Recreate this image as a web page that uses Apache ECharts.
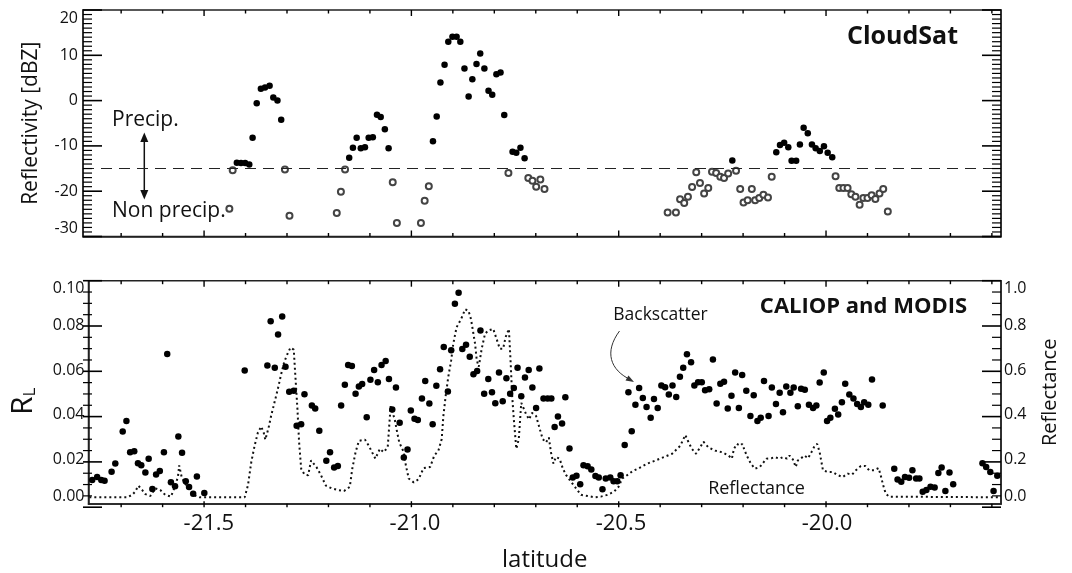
<!DOCTYPE html>
<html>
<head>
<meta charset="utf-8">
<script src="https://cdn.jsdelivr.net/npm/echarts@6/dist/echarts.min.js"></script>
<style>
html,body{margin:0;padding:0;background:#fff;}
#chart{width:1072px;height:573px;}
</style>
</head>
<body>
<div id="chart"></div>
<script>
// ---------------- DATA ----------------
// Top panel (CloudSat reflectivity, dBZ)
const precipLat = [-21.421,-21.411,-21.401,-21.391,-21.383,-21.373,-21.363,-21.353,-21.342,-21.333,-21.323,-21.314,
  -21.150,-21.141,-21.132,-21.122,-21.112,-21.103,-21.093,-21.083,-21.074,-21.064,-21.055,
  -20.948,-20.939,-20.930,-20.920,-20.911,-20.901,-20.891,-20.882,-20.872,-20.862,-20.853,-20.843,-20.834,-20.824,-20.814,-20.805,-20.795,-20.785,-20.776,-20.756,-20.747,-20.737,-20.727,
  -20.226,-20.120,-20.111,-20.101,-20.091,-20.083,-20.072,-20.063,-20.054,-20.044,-20.034,-20.025,-20.015,-20.005,-19.996,-19.985];
const precipDbz = [-13.7,-13.8,-13.8,-14.1,-8.2,-0.6,2.6,2.9,3.3,0.7,0.0,-4.2,
  -12.6,-10.4,-8.2,-10.5,-10.3,-8.2,-8.1,-3.1,-3.6,-6.3,-10.5,
  -9.0,-3.5,4.0,7.9,13.0,14.1,14.1,13.0,7.1,0.9,4.7,8.1,10.4,7.1,2.2,1.3,5.8,6.2,-3.2,-11.3,-11.5,-10.4,-12.7,
  -13.2,-11.4,-9.8,-9.3,-10.3,-13.3,-13.3,-9.7,-6.0,-7.2,-9.7,-10.5,-11.1,-10.1,-11.5,-12.5];
const nonPrecipLat = [-21.439,-21.431,-21.305,-21.294,-21.180,-21.170,-21.160,-21.045,-21.035,-20.977,-20.968,-20.958,
  -20.766,-20.718,-20.708,-20.699,-20.689,-20.679,
  -20.382,-20.362,-20.352,-20.342,-20.333,-20.323,-20.313,-20.304,-20.294,-20.284,-20.275,-20.265,-20.255,-20.246,-20.236,
  -20.217,-20.207,-20.199,-20.189,-20.179,-20.171,-20.161,-20.151,-20.140,-20.131,
  -19.977,-19.968,-19.958,-19.948,-19.939,-19.929,-19.919,-19.910,-19.900,-19.890,-19.881,-19.871,-19.862,-19.851];
const nonPrecipDbz = [-23.9,-15.4,-15.2,-25.4,-24.8,-20.1,-15.2,-18.0,-27.0,-27.0,-22.1,-18.9,
  -16.0,-17.1,-17.7,-19.0,-17.4,-19.5,
  -24.7,-24.7,-21.8,-22.6,-21.2,-19.1,-15.8,-18.2,-20.5,-19.3,-15.7,-16.0,-16.8,-17.1,-16.1,
  -15.5,-19.5,-22.5,-22.0,-19.5,-22.0,-21.5,-20.8,-21.4,-16.8,
  -16.7,-19.3,-19.3,-19.3,-20.7,-21.2,-23.0,-21.5,-21.5,-20.9,-21.7,-20.5,-19.5,-24.5];
const precipThreshold = -15;

// Bottom panel (CALIOP backscatter R_L)
const backLat = [-21.783,-21.771,-21.761,-21.753,-21.736,-21.727,-21.709,-21.700,-21.691,-21.681,-21.672,-21.664,-21.654,-21.646,-21.637,-21.628,-21.619,-21.609,-21.601,-21.592,-21.582,-21.574,-21.565,-21.556,-21.548,-21.538,-21.529,-21.511,
  -21.413,-21.358,-21.350,-21.340,-21.332,-21.322,-21.314,-21.305,-21.294,-21.287,-21.276,-21.268,-21.250,-21.242,-21.232,-21.215,-21.206,-21.196,-21.187,-21.179,-21.170,-21.162,-21.153,-21.144,-21.136,-21.128,-21.117,-21.108,-21.099,-21.090,-21.081,-21.071,-21.063,-21.055,-21.046,-21.037,-21.027,-21.018,-21.010,-21.001,-20.993,-20.983,-20.975,-20.965,-20.957,-20.948,-20.939,-20.930,-20.920,-20.912,-20.903,-20.894,-20.885,-20.876,-20.867,-20.858,-20.849,-20.841,-20.832,-20.822,-20.813,-20.805,-20.796,-20.787,-20.778,-20.769,-20.760,-20.751,-20.742,-20.733,-20.724,-20.715,-20.706,-20.698,-20.688,-20.678,-20.669,-20.661,-20.653,-20.643,-20.635,-20.625,-20.617,-20.608,-20.599,-20.591,-20.581,-20.572,-20.562,-20.554,-20.545,-20.537,-20.526,-20.518,-20.509,-20.501,-20.491,-20.482,-20.474,-20.465,-20.456,-20.447,-20.438,-20.428,-20.420,-20.411,-20.402,-20.393,-20.384,-20.375,-20.366,-20.357,-20.349,-20.340,-20.330,-20.322,-20.313,-20.304,-20.296,-20.286,-20.277,-20.268,-20.259,-20.250,-20.241,-20.232,-20.223,-20.214,-20.206,-20.196,-20.186,-20.178,-20.169,-20.161,-20.153,-20.142,-20.134,-20.124,-20.115,-20.107,-20.099,-20.089,-20.081,-20.071,-20.063,-20.054,-20.044,-20.034,-20.026,-20.018,-20.008,-20.000,-19.992,-19.981,-19.973,-19.964,-19.956,-19.946,-19.936,-19.927,-19.918,-19.910,-19.900,-19.891,-19.865,
  -19.837,-19.829,-19.820,-19.811,-19.801,-19.793,-19.784,-19.776,-19.768,-19.759,-19.749,-19.739,-19.730,-19.722,-19.713,-19.703,-19.694,
  -19.623,-19.614,-19.604,-19.596,-19.587];
const backRL = [0.0107,0.0121,0.0107,0.0104,0.0144,0.0181,0.0325,0.0372,0.0232,0.0236,0.0183,0.0173,0.0141,0.0203,0.0067,0.0132,0.0148,0.0232,0.0672,0.0097,0.0080,0.0302,0.0229,0.0102,0.0076,0.0046,0.0123,0.0049,
  0.0598,0.0620,0.0818,0.0610,0.0759,0.0840,0.0615,0.0503,0.0507,0.0350,0.0357,0.0491,0.0441,0.0428,0.0328,0.0194,0.0232,0.0163,0.0170,0.0441,0.0534,0.0622,0.0618,0.0494,0.0526,0.0537,0.0389,0.0556,0.0600,0.0545,0.0622,0.0640,0.0560,0.0423,0.0522,0.0364,0.0208,0.0244,0.0419,0.0382,0.0376,0.0472,0.0551,0.0450,0.0357,0.0529,0.0603,0.0703,0.0504,0.0688,0.0897,0.0946,0.0694,0.0713,0.0659,0.0581,0.0596,0.0777,0.0494,0.0560,0.0500,0.0451,0.0589,0.0460,0.0563,0.0494,0.0519,0.0610,0.0482,0.0567,0.0600,0.0522,0.0430,0.0607,0.0473,0.0473,0.0473,0.0345,0.0392,0.0360,0.0478,0.0249,0.0119,0.0126,0.0088,0.0173,0.0169,0.0155,0.0125,0.0119,0.0066,0.0114,0.0119,0.0102,0.0102,0.0129,0.0264,0.0500,0.0326,0.0445,0.0519,0.0475,0.0434,0.0386,0.0470,0.0430,0.0531,0.0523,0.0490,0.0531,0.0479,0.0570,0.0610,0.0671,0.0635,0.0531,0.0545,0.0545,0.0509,0.0514,0.0647,0.0450,0.0538,0.0548,0.0428,0.0485,0.0589,0.0430,0.0578,0.0507,0.0394,0.0487,0.0372,0.0386,0.0551,0.0394,0.0522,0.0448,0.0498,0.0411,0.0526,0.0498,0.0522,0.0438,0.0516,0.0512,0.0445,0.0430,0.0441,0.0544,0.0589,0.0372,0.0386,0.0426,0.0401,0.0456,0.0538,0.0490,0.0472,0.0448,0.0434,0.0456,0.0445,0.0558,0.0441,
  0.0158,0.0110,0.0100,0.0121,0.0117,0.0151,0.0114,0.0114,0.0055,0.0063,0.0077,0.0074,0.0139,0.0163,0.0058,0.0141,0.0089,
  0.0183,0.0166,0.0143,0.0058,0.0126];

// Bottom panel (MODIS reflectance, right axis)
const reflLat = [-21.790,-21.698,-21.686,-21.679,-21.671,-21.662,-21.654,-21.642,-21.630,-21.618,-21.606,-21.592,-21.584,-21.575,-21.572,-21.566,-21.558,-21.546,-21.534,-21.522,
  -21.413,-21.405,-21.397,-21.389,-21.381,-21.373,-21.367,-21.363,-21.355,-21.349,-21.341,-21.333,-21.325,-21.317,-21.309,-21.302,-21.294,-21.290,-21.285,-21.281,-21.276,-21.268,-21.259,-21.252,-21.248,-21.239,-21.228,-21.216,-21.202,-21.188,-21.172,-21.158,-21.152,-21.144,-21.136,-21.121,-21.112,-21.096,-21.085,-21.076,-21.066,-21.059,-21.049,-21.043,-21.038,-21.027,-21.022,-21.015,-21.003,-20.991,-20.979,-20.963,-20.953,-20.943,-20.935,-20.931,-20.925,-20.919,-20.912,-20.907,-20.899,-20.888,-20.878,-20.870,-20.864,-20.858,-20.854,-20.850,-20.845,-20.838,-20.830,-20.822,-20.810,-20.802,-20.794,-20.786,-20.780,-20.772,-20.768,-20.764,-20.760,-20.754,-20.748,-20.742,-20.735,-20.730,-20.723,-20.716,-20.706,-20.698,-20.690,-20.682,-20.675,-20.670,-20.664,-20.658,-20.649,-20.641,-20.633,-20.621,-20.609,-20.597,-20.581,-20.565,-20.549,-20.533,-20.517,-20.506,-20.497,-20.485,-20.472,-20.456,-20.436,-20.416,-20.396,-20.376,-20.356,-20.344,-20.336,-20.328,-20.318,-20.308,-20.300,-20.288,-20.272,-20.255,-20.239,-20.231,-20.226,-20.219,-20.211,-20.206,-20.195,-20.185,-20.175,-20.163,-20.159,-20.147,-20.135,-20.127,-20.115,-20.107,-20.097,-20.091,-20.083,-20.076,-20.071,-20.063,-20.055,-20.046,-20.038,-20.030,-20.024,-20.018,-20.010,-19.998,-19.986,-19.974,-19.962,-19.950,-19.939,-19.930,-19.918,-19.907,-19.898,-19.886,-19.875,-19.870,-19.864,-19.858,-19.850,-19.578];
const reflVal = [0.030,0.030,0.041,0.055,0.082,0.063,0.044,0.036,0.070,0.063,0.041,0.033,0.070,0.121,0.173,0.121,0.092,0.063,0.038,0.030,
  0.030,0.085,0.188,0.261,0.320,0.347,0.320,0.288,0.342,0.394,0.453,0.512,0.578,0.637,0.673,0.700,0.691,0.570,0.423,0.276,0.158,0.132,0.129,0.195,0.195,0.166,0.129,0.082,0.070,0.063,0.058,0.077,0.158,0.232,0.283,0.288,0.261,0.203,0.247,0.232,0.254,0.438,0.379,0.320,0.276,0.232,0.173,0.114,0.097,0.111,0.161,0.166,0.217,0.239,0.291,0.394,0.490,0.570,0.644,0.717,0.791,0.828,0.872,0.865,0.828,0.762,0.717,0.644,0.615,0.695,0.762,0.777,0.784,0.740,0.695,0.695,0.747,0.784,0.644,0.482,0.379,0.247,0.291,0.453,0.423,0.401,0.379,0.408,0.394,0.342,0.291,0.276,0.298,0.232,0.181,0.210,0.203,0.158,0.129,0.099,0.070,0.041,0.036,0.030,0.033,0.041,0.055,0.077,0.114,0.129,0.147,0.161,0.181,0.195,0.210,0.225,0.261,0.309,0.276,0.247,0.225,0.254,0.279,0.254,0.239,0.232,0.217,0.203,0.247,0.269,0.261,0.269,0.217,0.181,0.158,0.166,0.173,0.203,0.205,0.210,0.203,0.210,0.203,0.217,0.200,0.166,0.195,0.205,0.217,0.205,0.232,0.261,0.269,0.232,0.151,0.143,0.143,0.129,0.121,0.136,0.132,0.151,0.170,0.170,0.151,0.151,0.161,0.129,0.085,0.048,0.033,0.030];

// Axis ticks / labels
const latMin = -21.792, latMax = -19.578;
const xTickValues = [-21.7,-21.6,-21.5,-21.4,-21.3,-21.2,-21.1,-21.0,-20.9,-20.8,-20.7,-20.6,-20.5,-20.4,-20.3,-20.2,-20.1,-20.0,-19.9,-19.8,-19.7,-19.6];
const xLabelValues = [-21.5,-21.0,-20.5,-20.0];
const dbzTickValues = [-30,-20,-10,0,10,20];      // major ticks, top panel (10 minor divisions)
const rlTickValues = [0,0.02,0.04,0.06,0.08,0.10]; // major ticks, bottom panel (4 minor divisions)

// ---------------- CHART ----------------
const FONT = 'Open Sans';
const INK = '#111';
const GRID_LEFT = 83, GRID_RIGHT = 71, GRID_H = 226.5, TOP1 = 10, TOP2 = 280.7, W = 1072;
const chart = echarts.init(document.getElementById('chart'), null, {renderer: 'canvas'});

function zip(a, b) { return a.map((v, i) => [v, b[i]]); }
function axLine() { return {show: true, onZero: false, lineStyle: {color: '#222', width: 1.5}}; }
function labelBase(extra) { return Object.assign({show: true, fontFamily: FONT, fontSize: 16, color: INK, verticalAlignMaxLabel: 'top', verticalAlignMinLabel: 'bottom'}, extra); }

const annotations = [
  {type: 'text', x: 902.5, y: 37, style: {text: 'CloudSat', font: 'bold 25px "Open Sans"', fill: INK, textAlign: 'center', textVerticalAlign: 'middle'}},
  {type: 'text', x: 112, y: 120, style: {text: 'Precip.', font: '21px "Open Sans"', fill: INK, textAlign: 'left', textVerticalAlign: 'middle'}},
  {type: 'text', x: 112, y: 211, style: {text: 'Non precip.', font: '21px "Open Sans"', fill: INK, textAlign: 'left', textVerticalAlign: 'middle'}},
  {type: 'line', shape: {x1: 144.3, y1: 138, x2: 144.3, y2: 194}, style: {stroke: INK, lineWidth: 1.5}},
  {type: 'polygon', shape: {points: [[144.3, 132.5], [140.3, 142], [148.3, 142]]}, style: {fill: INK}},
  {type: 'polygon', shape: {points: [[144.3, 199.5], [140.3, 190], [148.3, 190]]}, style: {fill: INK}},
  {type: 'text', x: 863.5, y: 307, style: {text: 'CALIOP and MODIS', font: 'bold 22px "Open Sans"', fill: INK, textAlign: 'center', textVerticalAlign: 'middle'}},
  {type: 'text', x: 660.5, y: 315, style: {text: 'Backscatter', font: '17.5px "Open Sans"', fill: INK, textAlign: 'center', textVerticalAlign: 'middle'}},
  {type: 'bezierCurve', shape: {x1: 619.5, y1: 331, cpx1: 604, cpy1: 352, cpx2: 610, cpy2: 370, x2: 631, y2: 380}, style: {stroke: '#333', lineWidth: 1, fill: null}},
  {type: 'polygon', shape: {points: [[634, 382], [625.5, 380.5], [628.5, 375.5]]}, style: {fill: '#333'}},
  {type: 'text', x: 756.5, y: 489, style: {text: 'Reflectance', font: '18px "Open Sans"', fill: INK, textAlign: 'center', textVerticalAlign: 'middle'}}
];

// Tick marks on all four sides of both panels, mapped linearly with the same
// axis ranges and grid geometry that the axes use.
function buildTicks() {
  const els = [];
  const plotW = W - GRID_LEFT - GRID_RIGHT;
  const panels = [
    {top: TOP1, yMin: -30, yMax: 20, majors: dbzTickValues, nMinor: 10},
    {top: TOP2, yMin: 0, yMax: 0.1, majors: rlTickValues, nMinor: 4}
  ];
  const rect = (x, y, w, h) => els.push({type: 'rect', z: 100, silent: true,
    shape: {x: x, y: y, width: w, height: h}, style: {fill: '#000'}});
  panels.forEach(p => {
    const px = (x) => GRID_LEFT + (x - latMin) / (latMax - latMin) * plotW;
    const py = (y) => p.top + GRID_H - (y - p.yMin) / (p.yMax - p.yMin) * GRID_H;
    xTickValues.forEach(v => {
      const x = px(v);
      const major = Math.abs(v * 2 - Math.round(v * 2)) < 1e-6;
      const len = major ? 6 : 3.5;
      rect(x - 0.7, p.top + GRID_H - len, 1.4, len);
      rect(x - 0.7, p.top, 1.4, len);
    });
    const step = p.majors[1] - p.majors[0];
    p.majors.forEach(v => {
      for (let k = 0; k < p.nMinor; k++) {
        const yv = v + k * step / p.nMinor;
        if (yv > p.yMax + 1e-9) break;
        const len = k === 0 ? 19 : 9;
        const th = k === 0 ? 1.6 : 1.2;
        const y = py(yv);
        rect(GRID_LEFT, y - th / 2, len, th);
        rect(GRID_LEFT + plotW - len, y - th / 2, len, th);
      }
    });
  });
  return els;
}

const option = {
  animation: false,
  backgroundColor: '#fff',
  grid: [
    {left: GRID_LEFT, right: GRID_RIGHT, top: TOP1, height: GRID_H, show: true, borderColor: '#222', borderWidth: 1.5, backgroundColor: 'transparent'},
    {left: GRID_LEFT, right: GRID_RIGHT, top: TOP2, height: GRID_H, show: true, borderColor: '#222', borderWidth: 1.5, backgroundColor: 'transparent'}
  ],
  xAxis: [
    {type: 'value', gridIndex: 0, min: latMin, max: latMax, axisLine: axLine(), axisTick: {show: false}, axisLabel: {show: false}, splitLine: {show: false}},
    {type: 'value', gridIndex: 1, min: latMin, max: latMax, axisLine: axLine(), axisTick: {show: false}, splitLine: {show: false},
      axisLabel: {show: true, customValues: xLabelValues, formatter: v => v.toFixed(1), fontFamily: FONT, fontSize: 22, color: INK, margin: 9},
      name: 'latitude', nameLocation: 'middle', nameGap: 44, nameTextStyle: {fontFamily: FONT, fontSize: 24, color: INK}}
  ],
  yAxis: [
    {type: 'value', gridIndex: 0, position: 'left', min: -30, max: 20, interval: 10,
      axisLine: axLine(), splitLine: {show: false}, axisTick: {show: false},
      axisLabel: labelBase({margin: 5}),
      name: 'Reflectivity [dBZ]', nameLocation: 'middle', nameRotate: 90, nameGap: 41,
      nameTextStyle: {fontFamily: FONT, fontSize: 21, color: INK}},
    {type: 'value', gridIndex: 0, position: 'right', min: -30, max: 20, interval: 10,
      axisLine: axLine(), splitLine: {show: false}, axisTick: {show: false},
      axisLabel: {show: false}},
    {type: 'value', gridIndex: 1, position: 'left', min: 0, max: 0.1, interval: 0.02,
      axisLine: axLine(), splitLine: {show: false}, axisTick: {show: false},
      axisLabel: labelBase({margin: 4, formatter: v => v.toFixed(2)}),
      name: 'R{sub|L}', nameLocation: 'middle', nameRotate: 90, nameGap: 50,
      nameTextStyle: {fontFamily: FONT, fontSize: 30, color: INK, padding: [0, 18, 0, 0],
        rich: {sub: {fontFamily: FONT, fontSize: 17, color: INK, verticalAlign: 'bottom', padding: [14, 0, 0, 0]}}}},
    {type: 'value', gridIndex: 1, position: 'right', min: 0, max: 1.0, interval: 0.2,
      axisLine: axLine(), splitLine: {show: false}, axisTick: {show: false},
      axisLabel: labelBase({margin: 3, formatter: v => v.toFixed(1)}),
      name: 'Reflectance', nameLocation: 'middle', nameRotate: 90, nameGap: 39,
      nameTextStyle: {fontFamily: FONT, fontSize: 20, color: INK}}
  ],
  series: [
    {
      name: 'Non precip', type: 'scatter', xAxisIndex: 0, yAxisIndex: 0,
      symbol: 'emptyCircle', symbolSize: 6,
      itemStyle: {color: '#444', borderColor: '#444', borderWidth: 0.8, opacity: 1},
      data: zip(nonPrecipLat, nonPrecipDbz), silent: true, z: 3
    },
    {
      name: 'Precip', type: 'scatter', xAxisIndex: 0, yAxisIndex: 0,
      symbol: 'circle', symbolSize: 6.5, itemStyle: {color: '#000', opacity: 1},
      data: zip(precipLat, precipDbz), silent: true, z: 4,
      markLine: {silent: true, symbol: 'none', label: {show: false},
        lineStyle: {color: '#222', width: 1.2, type: [11, 7]},
        data: [{yAxis: precipThreshold}]}
    },
    {
      name: 'Reflectance', type: 'line', xAxisIndex: 1, yAxisIndex: 3,
      data: zip(reflLat, reflVal), showSymbol: false, silent: true, z: 2,
      lineStyle: {color: '#111', width: 2, type: [2, 3]}
    },
    {
      name: 'Backscatter', type: 'scatter', xAxisIndex: 1, yAxisIndex: 2,
      symbol: 'circle', symbolSize: 6.5, itemStyle: {color: '#000', opacity: 1},
      data: zip(backLat, backRL), silent: true, z: 4
    }
  ],
  graphic: annotations.concat(buildTicks())
};
chart.setOption(option);
</script>
</body>
</html>
